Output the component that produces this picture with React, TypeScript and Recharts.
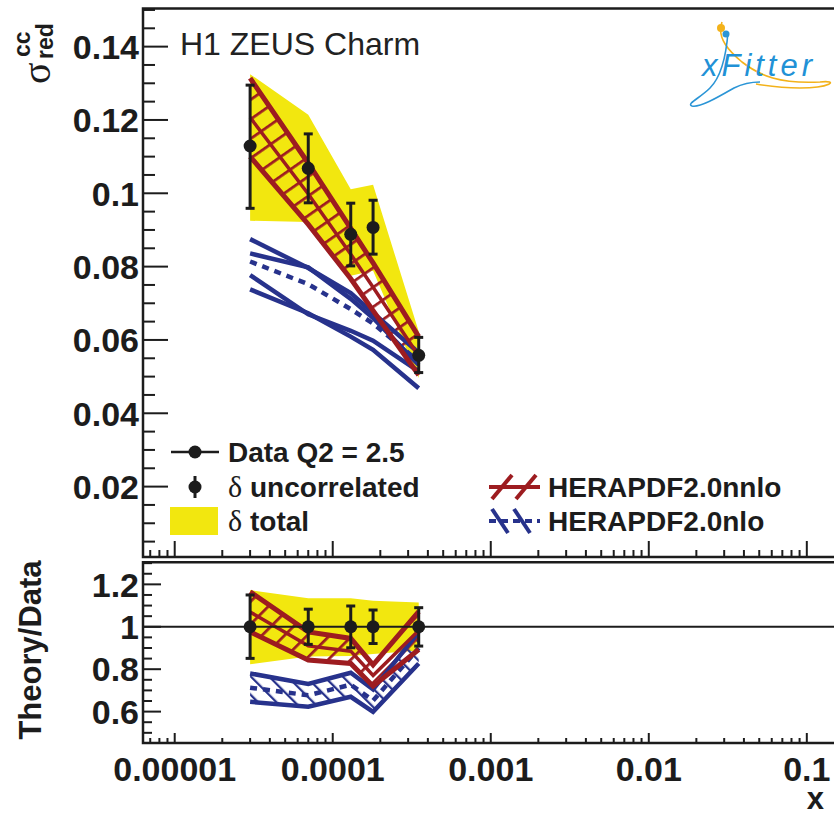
import React from "react";
import {
  ComposedChart,
  Area,
  Line,
  Scatter,
  ErrorBar,
  XAxis,
  YAxis,
  ReferenceLine,
  ReferenceArea,
} from "recharts";

const RED = "#9d1c20";
const BLUE = "#27328c";
const YELLOW = "#f2e70f";
const INK = "#1c1c1c";
const FONT = '"Liberation Sans", Arial, Helvetica, sans-serif';
const SERIF = '"Liberation Serif", "DejaVu Serif", serif';

// H1+ZEUS charm, Q2 = 2.5
const xVals = [3e-5, 7e-5, 1.3e-4, 1.8e-4, 3.5e-4];
const sigmaRed = [0.1129, 0.1068, 0.0888, 0.0907, 0.0558];
const uncUp = [0.1295, 0.1162, 0.0973, 0.0981, 0.0607];
const uncDn = [0.0959, 0.0974, 0.0802, 0.0834, 0.0511];
const totUp = [0.1325, 0.1214, 0.1011, 0.1023, 0.0623];
const totDn = [0.0925, 0.0922, 0.0775, 0.0789, 0.0496];

// HERAPDF2.0nnlo
const nnloUp = [0.1314, 0.1082, 0.0904, 0.081, 0.0609];
const nnloMid = [0.1207, 0.0998, 0.0834, 0.0744, 0.0556];
const nnloDn = [0.11, 0.0915, 0.0767, 0.068, 0.0504];

// HERAPDF2.0nlo
const nloUp = [0.0875, 0.0796, 0.0728, 0.0674, 0.0565];
const nloIn1 = [0.0836, 0.0798, 0.0712, 0.066, 0.0532];
const nloMid = [0.0814, 0.0752, 0.0684, 0.0645, 0.0541];
const nloIn2 = [0.0777, 0.067, 0.0625, 0.0598, 0.0514];
const nloDn = [0.0738, 0.0673, 0.0609, 0.0573, 0.0468];

// theory / data panel
const ratioData = [1, 1, 1, 1, 1];
const rUncUp = [1.15, 1.083, 1.098, 1.079, 1.09];
const rUncDn = [0.851, 0.917, 0.901, 0.921, 0.909];
const rTotUp = [1.173, 1.134, 1.134, 1.123, 1.115];
const rTotDn = [0.823, 0.86, 0.862, 0.872, 0.888];
const rNnloUp = [1.165, 0.976, 0.945, 0.82, 1.071];
const rNnloMid = [1.07, 0.91, 0.885, 0.77, 0.982];
const rNnloDn = [0.976, 0.843, 0.827, 0.72, 0.893];
const rNloUp = [0.78, 0.73, 0.783, 0.705, 0.976];
const rNloMid = [0.713, 0.677, 0.727, 0.652, 0.9];
const rNloDn = [0.646, 0.623, 0.67, 0.599, 0.827];

// axes
const X_DOMAIN = [6.3e-6, 0.153];
const xMajor = [1e-5, 1e-4, 1e-3, 1e-2, 1e-1];
const xMajorLabels = ["0.00001", "0.0001", "0.001", "0.01", "0.1"];
const Y_TOP = [0.0008, 0.1504];
const yTopMajor = [0.02, 0.04, 0.06, 0.08, 0.1, 0.12, 0.14];
const yTopLabels = ["0.02", "0.04", "0.06", "0.08", "0.1", "0.12", "0.14"];
const Y_BOT = [0.452, 1.304];
const yBotMajor = [0.6, 0.8, 1, 1.2];
const yBotLabels = ["0.6", "0.8", "1", "1.2"];

const W = 842;
const PL = 143;
const TOP_H = 560;
const TOP_PB = 557;
const BOT_TOP = 556;
const BOT_H = 260;
const BOT_PB = 187;

const xTicks: number[] = [];
for (let d = -6; d <= -1; d++) {
  for (let m = 1; m <= 9; m++) {
    const v = m * Math.pow(10, d);
    if (v >= X_DOMAIN[0] && v <= X_DOMAIN[1]) xTicks.push(v);
  }
}
const stepTicks = (from: number, to: number, step: number) => {
  const out: number[] = [];
  for (let v = from; v <= to + 1e-9; v += step) out.push(Math.round(v * 1e6) / 1e6);
  return out;
};
const yTopTicks = stepTicks(0.005, 0.15, 0.005);
const yBotTicks = stepTicks(0.5, 1.3, 0.05);

const topRows = xVals.map((x, i) => ({
  x,
  sigma: sigmaRed[i],
  unc: [sigmaRed[i] - uncDn[i], uncUp[i] - sigmaRed[i]],
  tot: [totDn[i], totUp[i]],
  nnloBand: [nnloDn[i], nnloUp[i]],
  nnloUp: nnloUp[i],
  nnloMid: nnloMid[i],
  nnloDn: nnloDn[i],
  nloUp: nloUp[i],
  nloIn1: nloIn1[i],
  nloMid: nloMid[i],
  nloIn2: nloIn2[i],
  nloDn: nloDn[i],
}));

const botRows = xVals.map((x, i) => ({
  x,
  ratio: ratioData[i],
  unc: [ratioData[i] - rUncDn[i], rUncUp[i] - ratioData[i]],
  tot: [rTotDn[i], rTotUp[i]],
  nnloBand: [rNnloDn[i], rNnloUp[i]],
  nnloUp: rNnloUp[i],
  nnloMid: rNnloMid[i],
  nnloDn: rNnloDn[i],
  nloBand: [rNloDn[i], rNloUp[i]],
  nloUp: rNloUp[i],
  nloMid: rNloMid[i],
  nloDn: rNloDn[i],
}));

const makeYTick =
  (majors: number[], labels: string[], big: number, small: number) =>
  (props: any) => {
    const v = props.payload.value;
    const i = majors.findIndex((m) => Math.abs(m - v) < 1e-6);
    return (
      <g>
        <line
          x1={PL}
          x2={PL + (i >= 0 ? big : small)}
          y1={props.y}
          y2={props.y}
          stroke={INK}
          strokeWidth={2}
        />
        {i >= 0 && (
          <text
            x={PL - 4}
            y={props.y}
            dy="0.36em"
            textAnchor="end"
            fontSize={34}
            fontWeight="bold"
            fontFamily={FONT}
            fill={INK}
          >
            {labels[i]}
          </text>
        )}
      </g>
    );
  };

const makeXTick =
  (baseY: number, big: number, small: number, labels: boolean) =>
  (props: any) => {
    const v = props.payload.value;
    const e = Math.log10(v);
    const i = xMajor.findIndex((m) => Math.abs(Math.log10(m) - e) < 1e-6);
    return (
      <g>
        <line
          x1={props.x}
          x2={props.x}
          y1={baseY}
          y2={baseY - (i >= 0 ? big : small)}
          stroke={INK}
          strokeWidth={2}
        />
        {labels && i >= 0 && (
          <text
            x={props.x}
            y={baseY + 38}
            textAnchor="middle"
            fontSize={34}
            fontWeight="bold"
            fontFamily={FONT}
            fill={INK}
          >
            {xMajorLabels[i]}
          </text>
        )}
      </g>
    );
  };

const dotShape = (p: any) => <circle cx={p.cx} cy={p.cy} r={6.5} fill={INK} />;

const line = (key: string, color: string, dash?: string, w = 4.5) => (
  <Line
    key={key}
    dataKey={key}
    stroke={color}
    strokeWidth={w}
    strokeDasharray={dash}
    dot={false}
    activeDot={false}
    type="linear"
    isAnimationActive={false}
  />
);

// ROOT-style hatch fills: "/" for nnlo, "\" for nlo
const Hatches = ({ redAngle }: { redAngle: number }) => (
  <defs>
    <pattern
      id={`hatchRed${redAngle}`}
      patternUnits="userSpaceOnUse"
      width={16}
      height={16}
      patternTransform={`rotate(${redAngle})`}
    >
      <line x1={0} y1={0} x2={0} y2={16} stroke={RED} strokeWidth={5.5} />
    </pattern>
    <pattern
      id="hatchBlue"
      patternUnits="userSpaceOnUse"
      width={13}
      height={13}
      patternTransform="rotate(-45)"
    >
      <line x1={0} y1={0} x2={0} y2={13} stroke={BLUE} strokeWidth={4.5} />
    </pattern>
  </defs>
);

function TopPanel() {
  return (
    <ComposedChart
      width={W}
      height={TOP_H}
      data={topRows}
      margin={{ top: 8.5, right: 6, bottom: 0, left: 0 }}
    >
      <Hatches redAngle={55} />
      <XAxis
        dataKey="x"
        type="number"
        scale="log"
        domain={X_DOMAIN}
        allowDataOverflow
        ticks={xTicks}
        interval={0}
        height={TOP_H - TOP_PB}
        axisLine={false}
        tickLine={false}
        tick={makeXTick(TOP_PB, 16, 7, false)}
      />
      <YAxis
        type="number"
        domain={Y_TOP}
        allowDataOverflow
        ticks={yTopTicks}
        interval={0}
        width={PL}
        axisLine={false}
        tickLine={false}
        tick={makeYTick(yTopMajor, yTopLabels, 25, 12)}
      />
      <Area
        dataKey="tot"
        fill={YELLOW}
        fillOpacity={1}
        stroke="none"
        type="linear"
        isAnimationActive={false}
      />
      {line("nloUp", BLUE)}
      {line("nloIn1", BLUE)}
      {line("nloIn2", BLUE)}
      {line("nloDn", BLUE)}
      {line("nloMid", BLUE, "7 6")}
      <Area
        dataKey="nnloBand"
        fill="url(#hatchRed55)"
        fillOpacity={1}
        stroke="none"
        type="linear"
        isAnimationActive={false}
      />
      {line("nnloUp", RED, undefined, 5)}
      {line("nnloMid", RED, undefined, 3.5)}
      {line("nnloDn", RED, undefined, 5)}
      <Scatter dataKey="sigma" shape={dotShape} isAnimationActive={false}>
        <ErrorBar
          dataKey="unc"
          direction="y"
          width={4.5}
          strokeWidth={3}
          stroke={INK}
          isAnimationActive={false}
        />
      </Scatter>
      <ReferenceArea
        x1={X_DOMAIN[0]}
        x2={X_DOMAIN[1]}
        y1={Y_TOP[0]}
        y2={Y_TOP[1]}
        fill="none"
        stroke={INK}
        strokeWidth={2.5}
        ifOverflow="visible"
      />
    </ComposedChart>
  );
}

function BottomPanel() {
  return (
    <ComposedChart
      width={W}
      height={BOT_H}
      data={botRows}
      margin={{ top: 6.3, right: 6, bottom: 0, left: 0 }}
    >
      <Hatches redAngle={45} />
      <XAxis
        dataKey="x"
        type="number"
        scale="log"
        domain={X_DOMAIN}
        allowDataOverflow
        ticks={xTicks}
        interval={0}
        height={BOT_H - BOT_PB}
        axisLine={false}
        tickLine={false}
        tick={makeXTick(BOT_PB, 10, 5, true)}
      />
      <YAxis
        type="number"
        domain={Y_BOT}
        allowDataOverflow
        ticks={yBotTicks}
        interval={0}
        width={PL}
        axisLine={false}
        tickLine={false}
        tick={makeYTick(yBotMajor, yBotLabels, 18, 9)}
      />
      <Area
        dataKey="tot"
        fill={YELLOW}
        fillOpacity={1}
        stroke="none"
        type="linear"
        isAnimationActive={false}
      />
      <Area
        dataKey="nloBand"
        fill="url(#hatchBlue)"
        fillOpacity={1}
        stroke="none"
        type="linear"
        isAnimationActive={false}
      />
      {line("nloUp", BLUE)}
      {line("nloMid", BLUE, "7 6")}
      {line("nloDn", BLUE)}
      <Area
        dataKey="nnloBand"
        fill="url(#hatchRed45)"
        fillOpacity={1}
        stroke="none"
        type="linear"
        isAnimationActive={false}
      />
      {line("nnloUp", RED, undefined, 5)}
      {line("nnloMid", RED, undefined, 3.5)}
      {line("nnloDn", RED, undefined, 5)}
      <ReferenceLine y={1} stroke={INK} strokeWidth={2} ifOverflow="visible" />
      <Scatter dataKey="ratio" shape={dotShape} isAnimationActive={false}>
        <ErrorBar
          dataKey="unc"
          direction="y"
          width={4.5}
          strokeWidth={3}
          stroke={INK}
          isAnimationActive={false}
        />
      </Scatter>
      <ReferenceArea
        x1={X_DOMAIN[0]}
        x2={X_DOMAIN[1]}
        y1={Y_BOT[0]}
        y2={Y_BOT[1]}
        fill="none"
        stroke={INK}
        strokeWidth={2.5}
        ifOverflow="visible"
      />
    </ComposedChart>
  );
}

function Labels() {
  const legendText = { fontSize: 28, fontWeight: "bold" as const, fontFamily: FONT, fill: INK };
  const delta = { fontSize: 30, fontFamily: SERIF, fill: INK };
  return (
    <svg
      width={834}
      height={816}
      style={{ position: "absolute", left: 0, top: 0, pointerEvents: "none" }}
    >
      <text x={180} y={55} fontSize={32} fontFamily={FONT} fill="#222">
        H1 ZEUS Charm
      </text>

      {/* y title of the upper panel */}
      <g transform="translate(50,84) rotate(-90)" fill={INK}>
        <text x={0} y={0} fontSize={40} fontFamily={SERIF}>
          σ
        </text>
        <text x={27} y={-20} fontSize={23} fontWeight="bold" fontFamily={FONT}>
          cc
        </text>
        <text x={25} y={3} fontSize={23} fontWeight="bold" fontFamily={FONT}>
          red
        </text>
      </g>

      <text
        transform="translate(41,650) rotate(-90)"
        textAnchor="middle"
        fontSize={31}
        fontWeight="bold"
        fontFamily={FONT}
        fill={INK}
      >
        Theory/Data
      </text>
      <text x={824} y={809} textAnchor="end" fontSize={31} fontWeight="bold" fontFamily={FONT} fill={INK}>
        x
      </text>

      {/* legend */}
      <line x1={171} x2={219} y1={452} y2={452} stroke={INK} strokeWidth={2.5} />
      <circle cx={195} cy={452} r={6.5} fill={INK} />
      <text x={228} y={462} {...legendText}>
        Data Q2 = 2.5
      </text>

      <line x1={195} x2={195} y1={476} y2={498} stroke={INK} strokeWidth={3} />
      <circle cx={195} cy={487} r={6.5} fill={INK} />
      <text x={228} y={497} {...delta}>
        δ
      </text>
      <text x={250} y={497} {...legendText}>
        uncorrelated
      </text>

      <rect x={170} y={507} width={48} height={28} fill={YELLOW} />
      <text x={228} y={531} {...delta}>
        δ
      </text>
      <text x={250} y={531} {...legendText}>
        total
      </text>

      <g stroke={RED} strokeWidth={4}>
        <line x1={492} y1={499} x2={512} y2={475} />
        <line x1={516} y1={499} x2={536} y2={475} />
        <line x1={489} y1={487} x2={540} y2={487} />
      </g>
      <text x={548} y={497} {...legendText}>
        HERAPDF2.0nnlo
      </text>

      <g stroke={BLUE} strokeWidth={4}>
        <line x1={492} y1={509} x2={508} y2={533} />
        <line x1={514} y1={509} x2={530} y2={533} />
        <line x1={489} y1={521} x2={540} y2={521} strokeDasharray="7 5" />
      </g>
      <text x={548} y={531} {...legendText}>
        HERAPDF2.0nlo
      </text>

      {/* xFitter logo */}
      <g transform="translate(690,18)" fill="none" strokeWidth={1.6}>
        <path
          d="M 32 4 C 26 20, 40 34, 52 44 C 70 58, 90 66, 130 64 C 150 62, 140 70, 110 70 C 90 70, 78 68, 66 66"
          stroke="#f3b21a"
        />
        <path
          d="M 38 14 C 36 40, 30 60, 20 70 C 10 80, -4 86, 2 88 C 10 90, 30 78, 44 70 C 52 66, 60 64, 70 64"
          stroke="#2b95d6"
        />
        <circle cx={31} cy={10} r={4} fill="#f3b21a" stroke="none" />
        <circle cx={36} cy={16} r={3.5} fill="#2b95d6" stroke="none" />
        <text
          x={12}
          y={58}
          fontSize={31}
          fontStyle="italic"
          fontFamily={FONT}
          fill="#2191d6"
          stroke="none"
          textLength={110}
          lengthAdjust="spacing"
        >
          xFitter
        </text>
      </g>
    </svg>
  );
}

export default function App() {
  return (
    <div
      style={{
        position: "absolute",
        left: 0,
        top: 0,
        width: 834,
        height: 816,
        overflow: "hidden",
        background: "#fff",
      }}
    >
      <div style={{ position: "absolute", left: 0, top: 0 }}>
        <TopPanel />
      </div>
      <div style={{ position: "absolute", left: 0, top: BOT_TOP }}>
        <BottomPanel />
      </div>
      <Labels />
    </div>
  );
}
